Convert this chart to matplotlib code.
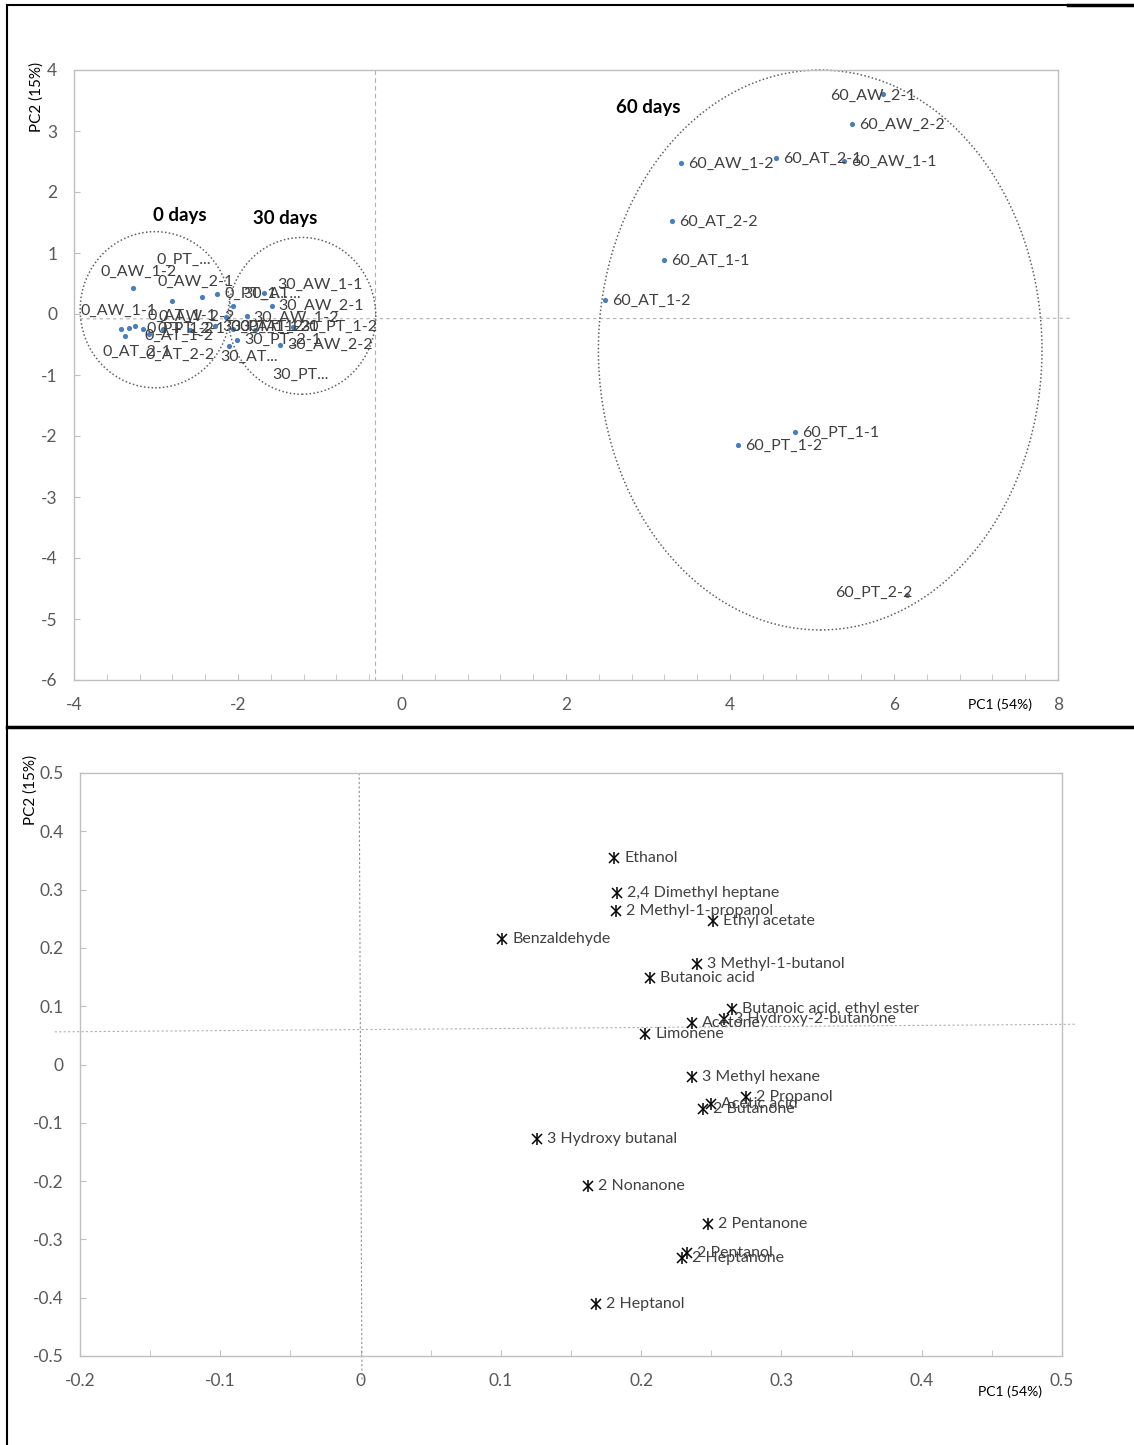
import matplotlib
matplotlib.use('Agg')
import matplotlib.pyplot as plt
import matplotlib.ticker as mticker
from matplotlib.patches import Ellipse
from matplotlib.lines import Line2D

plt.rcParams['font.family'] = ['Lato', 'DejaVu Sans']

# ---- scores (top panel) ----
score_labels = [
    '0_AW_1-2', '0_PT_...', '0_AW_2-1', '0_PT_1...', '0_AW_1-1', '0_AT_1-1',
    '0_AW_2-2', '0_AT_1-2', '0_PT_2-1', '0_PT_1-2', '0_AT_2-1', '0_AT_2-2',
    '30_AW_1-1', '30_AT...', '30_AW_2-1', '30_AW_1-2', '30_AT_1-2', '30_AT_2-1',
    '30_PT_1-1', '30_PT_1-2', '30_PT_2-1', '30_AW_2-2', '30_AT...', '30_PT...',
    '60_AW_2-1', '60_AW_2-2', '60_AW_1-2', '60_AT_2-1', '60_AW_1-1', '60_AT_2-2',
    '60_AT_1-1', '60_AT_1-2', '60_PT_1-1', '60_PT_1-2', '60_PT_2-2',
]
score_pc1 = [
    -3.28, -2.80, -2.44, -2.26, -3.43, -3.33,
    -3.26, -3.38, -3.16, -3.08, -2.92, -2.59,
    -1.68, -2.06, -1.59, -1.89, -2.15, -2.06,
    -2.28, -1.33, -2.01, -1.49, -2.11, -1.79,
    5.87, 5.49, 3.40, 4.56, 5.39, 3.29,
    3.20, 2.48, 4.79, 4.10, 6.16,
]
score_pc2 = [
    0.42, 0.22, 0.28, 0.33, -0.25, -0.23,
    -0.19, -0.36, -0.25, -0.33, -0.25, -0.26,
    0.34, 0.13, 0.13, -0.04, -0.05, -0.25,
    -0.19, -0.21, -0.43, -0.51, -0.52, -0.26,
    3.61, 3.11, 2.48, 2.56, 2.51, 1.52,
    0.89, 0.23, -1.93, -2.15, -4.61,
]
# label offsets in pixels (left edge of text, vertical centre)
score_dx = [-33, -16, -44, 8, -40, 19, 24, 20, 15, -3, -60, -44,
            13, 10, 7, 6, 6, 7, 7, 7, 7, 7, -9, 17,
            -53, 7, 7, 7, 7, 7, 7, 7, 7, 7, -72]
score_dy = [17, 41, 15, 0, 18, 12, 9, 0, 0, 5, -23, -25,
            8, 12, 0, -1, -10, 2, -1, 0, 0, 0, -11, -45,
            -2, -1, -1, -1, -1, -1, -1, -1, -1, -1, 2]

group_names = ['0 days', '30 days', '60 days']
group_x = [-2.71, -1.43, 3.00]
group_y = [1.61, 1.57, 3.38]

# ---- loadings (bottom panel) ----
load_names = [
    'Ethanol', '2,4 Dimethyl heptane', '2 Methyl-1-propanol', 'Ethyl acetate',
    'Benzaldehyde', '3 Methyl-1-butanol', 'Butanoic acid', 'Butanoic acid, ethyl ester',
    '3 Hydroxy-2-butanone', 'Acetone', 'Limonene', '3 Methyl hexane', '2 Propanol',
    'Acetic acid', '2 Butanone', '3 Hydroxy butanal', '2 Nonanone', '2 Pentanone',
    '2 Pentanol', '2 Heptanone', '2 Heptanol',
]
load_pc1 = [0.181, 0.183, 0.182, 0.251, 0.101, 0.240, 0.206, 0.265, 0.259, 0.236,
            0.203, 0.236, 0.275, 0.250, 0.244, 0.126, 0.162, 0.248, 0.233, 0.229, 0.168]
load_pc2 = [0.355, 0.295, 0.263, 0.246, 0.215, 0.172, 0.148, 0.096, 0.078, 0.072,
            0.052, -0.021, -0.055, -0.068, -0.076, -0.128, -0.208, -0.274, -0.323, -0.332, -0.411]

blue = '#4a7ebb'
lab_col = '#404040'
tick_col = '#595959'
spine_col = '#bfbfbf'

fig = plt.figure(figsize=(11.34, 14.45), dpi=100)

W, H = 1134, 1445

fmt = mticker.FuncFormatter(lambda v, p: '%g' % round(v, 3))


def style_axes(ax):
    for s in ax.spines.values():
        s.set_color(spine_col)
        s.set_linewidth(1.0)
    ax.tick_params(axis='both', which='both', direction='in', color=spine_col,
                   labelcolor=tick_col, labelsize=12.5, length=4, pad=12)
    ax.tick_params(axis='y', which='both', right=False)
    ax.tick_params(axis='x', which='both', top=False)
    ax.xaxis.set_major_formatter(fmt)
    ax.yaxis.set_major_formatter(fmt)


# top panel
ax1 = fig.add_axes([74 / W, 1 - 680 / H, (1058 - 74) / W, (680 - 70) / H])
ax1.set_xlim(-4, 8)
ax1.set_ylim(-6, 4)
ax1.xaxis.set_major_locator(mticker.MultipleLocator(2))
ax1.xaxis.set_minor_locator(mticker.MultipleLocator(0.4))
ax1.yaxis.set_major_locator(mticker.MultipleLocator(1))
style_axes(ax1)

ax1.plot([-0.33, -0.33], [4, -6], ls=(0, (4, 3)), color='#b0b0b0', lw=0.8)
ax1.plot([-3.93, 8.15], [-0.08, -0.07], ls=(0, (3, 3)), color='#b0b0b0', lw=0.8, clip_on=False)

ax1.scatter(score_pc1, score_pc2, s=14, color=blue, zorder=3, linewidths=0)
for lab, x, y, dx, dy in zip(score_labels, score_pc1, score_pc2, score_dx, score_dy):
    ax1.annotate(lab, (x, y), xytext=(dx, dy), textcoords='offset pixels',
                 ha='left', va='center', fontsize=11.5, color=lab_col, zorder=4)

for (cx, cy, w, h) in [(-3.01, 0.07, 1.83, 2.56), (-1.22, -0.03, 1.80, 2.57),
                       (5.10, -0.59, 5.41, 9.18)]:
    ax1.add_patch(Ellipse((cx, cy), w, h, fill=False, edgecolor='#606060',
                          ls=(0, (1, 1.5)), lw=1.1, clip_on=False, zorder=2))

for name, x, y in zip(group_names, group_x, group_y):
    ax1.text(x, y, name, ha='center', va='center', fontsize=13.5,
             fontweight='bold', color='black')

fig.text(37 / W, 1 - 97 / H, 'PC2 (15%)', rotation=90, ha='center', va='center',
         fontsize=11, color='black')
fig.text(1000 / W, 1 - 705 / H, 'PC1 (54%)', ha='center', va='center',
         fontsize=10, color='black')

# bottom panel
ax2 = fig.add_axes([80 / W, 1 - 1356 / H, (1062 - 80) / W, (1356 - 773) / H])
ax2.set_xlim(-0.2, 0.5)
ax2.set_ylim(-0.5, 0.5)
ax2.xaxis.set_major_locator(mticker.MultipleLocator(0.1))
ax2.xaxis.set_minor_locator(mticker.MultipleLocator(0.05))
ax2.yaxis.set_major_locator(mticker.MultipleLocator(0.1))
style_axes(ax2)

ax2.plot([-0.001, 0.001], [0.5, -0.541], ls=(0, (2, 2)), color='#909090', lw=0.8, clip_on=False)
ax2.plot([-0.218, 0.509], [0.056, 0.069], ls=(0, (2, 2)), color='#b0b0b0', lw=0.8, clip_on=False)

ax2.plot(load_pc1, load_pc2, ls='none', marker='x', ms=7, mew=1.1, color='black', zorder=3)
ax2.plot(load_pc1, load_pc2, ls='none', marker='|', ms=9, mew=1.1, color='black', zorder=3)
for name, x, y in zip(load_names, load_pc1, load_pc2):
    ax2.annotate(name, (x, y), xytext=(10, 0), textcoords='offset pixels',
                 ha='left', va='center', fontsize=11.5, color=lab_col, zorder=4)

fig.text(31 / W, 1 - 790 / H, 'PC2 (15%)', rotation=90, ha='center', va='center',
         fontsize=11, color='black')
fig.text(1010 / W, 1 - 1392 / H, 'PC1 (54%)', ha='center', va='center',
         fontsize=10, color='black')

# table borders
fig.add_artist(Line2D([7 / W, 1068 / W], [1 - 5 / H, 1 - 5 / H], color='black', lw=1.5))
fig.add_artist(Line2D([1068 / W, 1], [1 - 5 / H, 1 - 5 / H], color='black', lw=2.5))
fig.add_artist(Line2D([7 / W, 7 / W], [1 - 5 / H, 0], color='black', lw=1.5))
fig.add_artist(Line2D([7 / W, 1], [1 - 727 / H, 1 - 727 / H], color='black', lw=2.5))

fig.savefig('out.png', dpi=100)
